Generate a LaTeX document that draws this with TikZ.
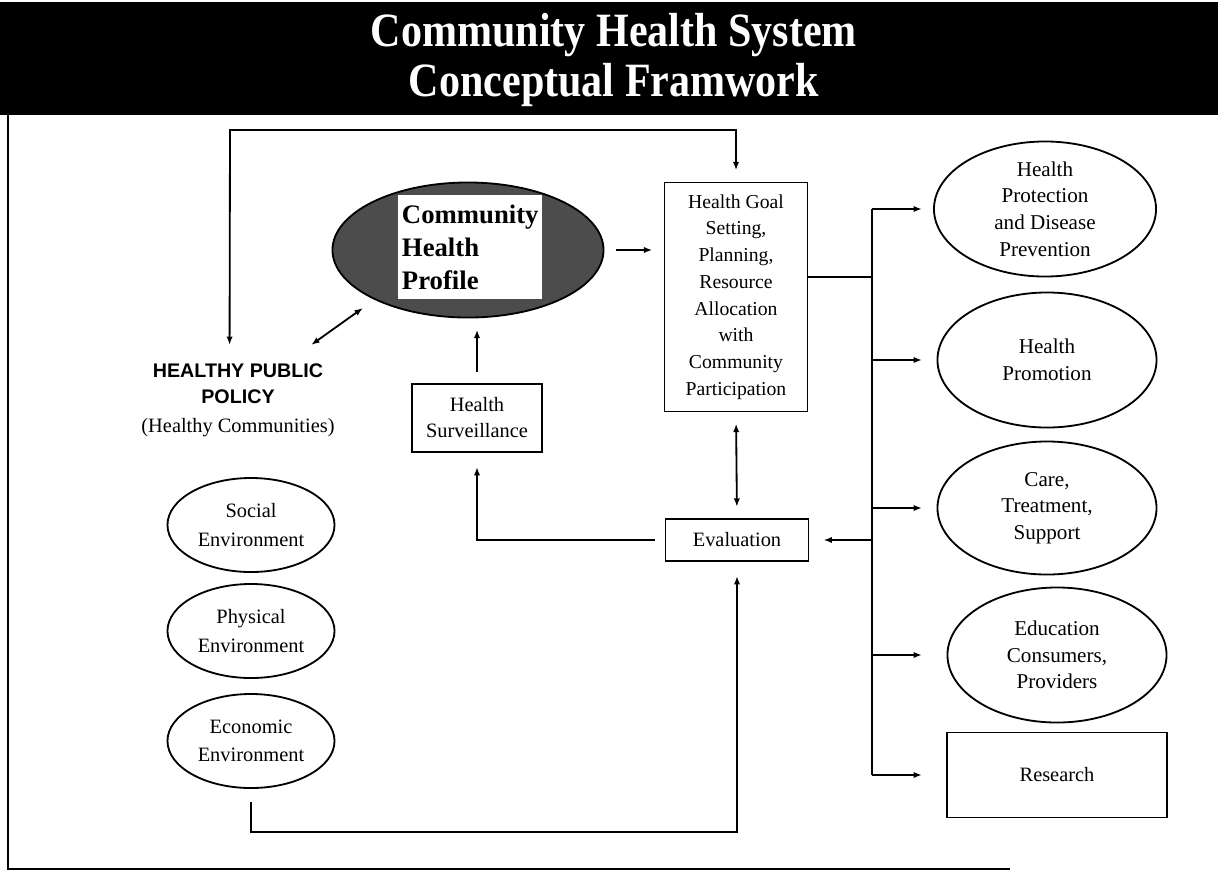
\documentclass[tikz,border=0pt]{standalone}
\usepackage{fontspec}
\setmainfont{Liberation Serif}
\setsansfont{Liberation Sans}
\newfontfamily\titlefont{Liberation Serif}[FakeStretch=0.88]
\usetikzlibrary{shapes.geometric, arrows.meta, positioning}

\tikzset{
  box/.style={draw, rectangle, line width=1.3pt, inner sep=0pt, align=center,
    font=\fontsize{14.5}{18.5}\selectfont},
  oval/.style={draw, ellipse, line width=1.3pt, inner sep=0pt, align=center,
    font=\fontsize{15}{19}\selectfont},
  envoval/.style={oval, minimum width=4.175cm, minimum height=2.35cm,
    font=\fontsize{14.5}{20}\selectfont},
  heading/.style={anchor=base, text=white,
    font=\titlefont\bfseries\fontsize{34}{36}\selectfont},
  link/.style={line width=1.3pt},
  gap/.style={shorten <=8pt, shorten >=8pt},
}

\begin{document}
\begin{tikzpicture}[x=0.025cm, y=-0.025cm, >={Latex[length=6pt,width=4.5pt]}]
    \useasboundingbox (0,0) rectangle (1218,871);

    % Title band
    \fill[black] (0,2) rectangle (1218,115);
    \node[heading] (title1) at (614,46) {Community Health System};
    \node[heading] (title2) at (614,96) {Conceptual Framwork};

    % Frame (left and bottom only)
    \draw[line width=1pt] (8,115) -- (8,869) -- (1010,869);

    % Centre column
    \node[oval, fill=black!70, minimum width=6.775cm, minimum height=3.375cm] (chp) at (468,250) {};
    \node[fill=white, minimum height=2.6cm, text width=3.4cm, inner xsep=0.1cm, align=left,
          font=\bfseries\fontsize{19}{23.5}\selectfont] (chpbox) at (470,247)
          {Community\\Health\\Profile};
    \node[box, minimum width=3.575cm, minimum height=5.725cm, font=\fontsize{14}{19}\selectfont] (goal) at (736,297)
          {Health Goal\\Setting,\\Planning,\\Resource\\Allocation\\with\\Community\\Participation};
    \node[box, minimum width=3.25cm, minimum height=1.7cm] (surv) at (477,418) {Health\\Surveillance};
    \node[box, minimum width=3.575cm, minimum height=1.05cm] (eval) at (737,540) {Evaluation};

    % Left column
    \node[inner sep=0pt, align=center, font=\sffamily\bfseries\fontsize{14}{19}\selectfont] (policy) at (238,400)
          {HEALTHY PUBLIC\\POLICY\\[1pt]{\rmfamily\mdseries\fontsize{14.5}{19}\selectfont (Healthy Communities)}};
    \node[envoval] (social) at (251,525) {Social\\Environment};
    \node[envoval] (physical) at (251,631) {Physical\\Environment};
    \node[envoval] (economic) at (251,741) {Economic\\Environment};

    % Right column
    \node[oval, minimum width=5.55cm, minimum height=3.375cm] (protect) at (1045,209)
          {Health\\Protection\\and Disease\\Prevention};
    \node[oval, minimum width=5.475cm, minimum height=3.375cm] (promo) at (1047,360) {Health\\Promotion};
    \node[oval, minimum width=5.475cm, minimum height=3.325cm] (care) at (1047,508) {Care,\\Treatment,\\Support};
    \node[oval, minimum width=5.475cm, minimum height=3.375cm] (educ) at (1057,655)
          {Education\\Consumers,\\Providers};
    \node[box, minimum width=5.5cm, minimum height=2.125cm] (research) at (1057,775) {Research};

    % Helper coordinates
    \coordinate (loop) at (230,130);
    \coordinate (bus) at (872,0);
    \coordinate (tip) at (922,0);

    % Loop over the top
    \draw[link, <->, shorten >=8pt] ([xshift=-6pt, yshift=13pt]policy.north) -- (loop) -| (goal.north);
    \draw[link, <->, shorten >=10pt] ([xshift=52pt, yshift=13pt]policy.north) -- (chp.208);

    % Centre flow
    \draw[link, ->, gap] (chp.east) -- (chp.east -| goal.west);
    \draw[link, ->, gap] (surv.north) -- (surv.north |- chp.south);
    \draw[link, ->, shorten <=7pt, shorten >=10pt] (eval.west) -| (surv.south);
    \draw[link, <->, gap] (goal.south) -- (eval.north);
    \draw[link, ->, shorten >=10pt] ([yshift=-9pt]economic.south) -- ++(0,30) -| (eval.south);

    % Distribution bus
    \draw[link] ([yshift=14pt]goal.east) -- ([yshift=14pt]goal.east -| bus);
    \draw[link] (protect.west -| bus) -- (research.west -| bus);
    \foreach \n in {protect, promo, care, educ, research}
        \draw[link, ->] (\n.west -| bus) -- (\n.west -| tip);
    \draw[link, ->, shorten >=10pt] (eval.east -| bus) -- (eval.east);
\end{tikzpicture}
\end{document}
